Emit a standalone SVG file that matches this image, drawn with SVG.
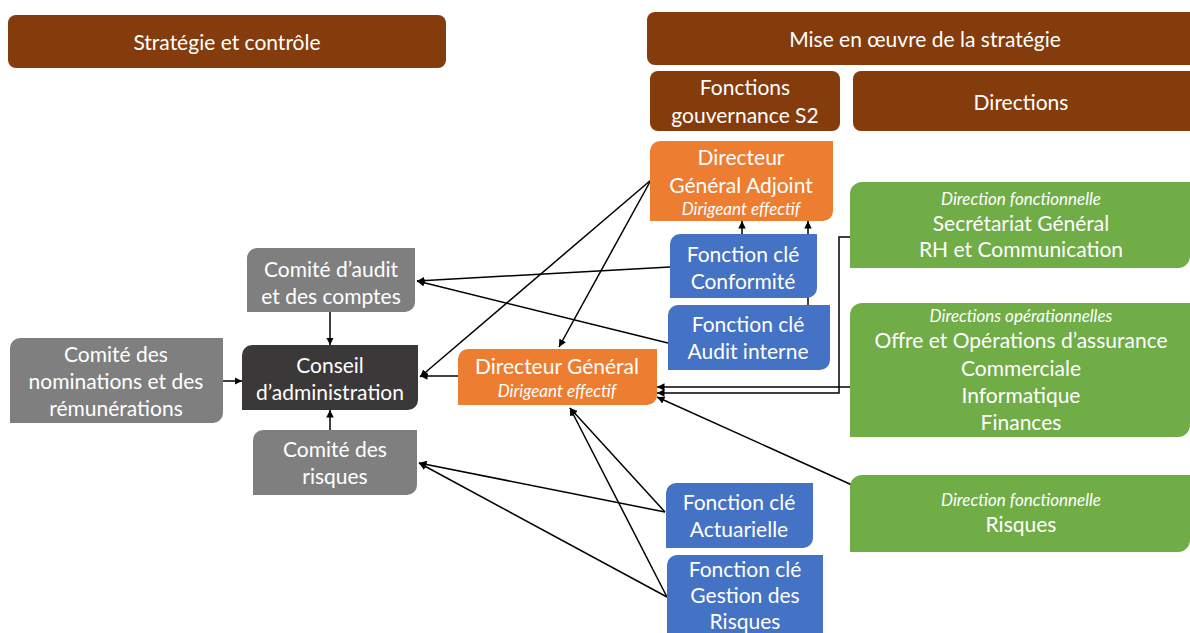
<svg xmlns="http://www.w3.org/2000/svg" width="1190" height="633" viewBox="0 0 1190 633">
<defs>
<marker id="arr" viewBox="0 0 10 10" refX="10" refY="5" markerWidth="5" markerHeight="5" orient="auto" markerUnits="strokeWidth">
<path d="M0,0 L10,5 L0,10 z" fill="#000"/>
</marker>
<style>
text{font-family:Lato,"Open Sans","Liberation Sans",sans-serif;fill:#fff;text-anchor:middle;font-size:21px}
.it{font-style:italic;font-size:17px}
.brown{fill:#843C0C}
.gray{fill:#7F7F7F}
.dark{fill:#3A3838}
.orange{fill:#ED7D31}
.blue{fill:#4472C4}
.green{fill:#70AD47}
.conn line,.conn path{stroke:#000;stroke-width:1.5;fill:none;marker-end:url(#arr)}
</style>
</defs>
<rect width="1190" height="633" fill="#fff"/>

<g id="h-strategie"><rect class="brown" x="8" y="15" width="438" height="53" rx="8"/><text x="227" y="50">Stratégie et contrôle</text></g>
<g id="h-mise"><rect class="brown" x="647" y="12" width="560" height="53" rx="8"/><text x="925" y="47">Mise en œuvre de la stratégie</text></g>
<g id="h-fonctions"><rect class="brown" x="650" y="71" width="190" height="60" rx="8"/><text x="745" y="95">Fonctions</text><text x="745" y="123">gouvernance S2</text></g>
<g id="h-directions"><rect class="brown" x="853" y="71" width="350" height="60" rx="8"/><text x="1021" y="110">Directions</text></g>

<g class="conn" id="connectors">
<line x1="330" y1="312" x2="330" y2="345"/>
<line x1="330" y1="430" x2="330" y2="410"/>
<line x1="223" y1="381" x2="242" y2="381"/>
<line x1="670" y1="267" x2="417" y2="281"/>
<line x1="668" y1="343" x2="417" y2="281"/>
<line x1="651" y1="180" x2="420" y2="377"/>
<line x1="651" y1="180" x2="559" y2="347"/>
<line x1="458" y1="376" x2="420" y2="376"/>
<line x1="742" y1="234" x2="742" y2="221"/>
<line x1="808" y1="305" x2="808" y2="221"/>
<path d="M852,237 H839 V393 H657"/>
<line x1="852" y1="387" x2="657" y2="387"/>
<line x1="852" y1="485" x2="657" y2="397"/>
<line x1="665" y1="512" x2="419" y2="463"/>
<line x1="667" y1="597" x2="419" y2="463"/>
<line x1="665" y1="512" x2="570" y2="408"/>
<line x1="667" y1="597" x2="570" y2="408"/>
</g>

<g id="comite-audit"><path class="gray" d="M257,248 H415 V302 A10,10 0 0 1 405,312 H247 V258 A10,10 0 0 1 257,248 Z"/><text x="331" y="277">Comité d’audit</text><text x="331" y="304">et des comptes</text></g>
<g id="comite-nominations"><path class="gray" d="M20,338 H223 V413 A10,10 0 0 1 213,423 H10 V348 A10,10 0 0 1 20,338 Z"/><text x="116" y="362">Comité des</text><text x="116" y="389">nominations et des</text><text x="116" y="416">rémunérations</text></g>
<g id="conseil"><path class="dark" d="M252,345 H418 V400 A10,10 0 0 1 408,410 H242 V355 A10,10 0 0 1 252,345 Z"/><text x="330" y="373">Conseil</text><text x="330" y="400">d’administration</text></g>
<g id="comite-risques"><path class="gray" d="M263,430 H417 V485 A10,10 0 0 1 407,495 H253 V440 A10,10 0 0 1 263,430 Z"/><text x="335" y="457">Comité des</text><text x="335" y="484">risques</text></g>

<g id="dg"><path class="orange" d="M468,349 H657 V395 A10,10 0 0 1 647,405 H458 V359 A10,10 0 0 1 468,349 Z"/><text x="557" y="374">Directeur Général</text><text class="it" x="557" y="397">Dirigeant effectif</text></g>
<g id="dga"><path class="orange" d="M660,141 H833 V211 A10,10 0 0 1 823,221 H650 V151 A10,10 0 0 1 660,141 Z"/><text x="741" y="165">Directeur</text><text x="741" y="193">Général Adjoint</text><text class="it" x="741" y="215">Dirigeant effectif</text></g>

<g id="fc-conformite"><path class="blue" d="M680,234 H817 V288 A10,10 0 0 1 807,298 H670 V244 A10,10 0 0 1 680,234 Z"/><text x="743" y="262">Fonction clé</text><text x="743" y="289">Conformité</text></g>
<g id="fc-audit"><path class="blue" d="M678,305 H830 V360 A10,10 0 0 1 820,370 H668 V315 A10,10 0 0 1 678,305 Z"/><text x="748" y="332">Fonction clé</text><text x="748" y="359">Audit interne</text></g>
<g id="fc-actuarielle"><path class="blue" d="M676,483 H813 V538 A10,10 0 0 1 803,548 H666 V493 A10,10 0 0 1 676,483 Z"/><text x="739" y="510">Fonction clé</text><text x="739" y="537">Actuarielle</text></g>
<g id="fc-gestion"><path class="blue" d="M677,555 H823 V640 A10,10 0 0 1 813,650 H667 V565 A10,10 0 0 1 677,555 Z"/><text x="745" y="577">Fonction clé</text><text x="745" y="603">Gestion des</text><text x="745" y="629">Risques</text></g>

<g id="dir-sg"><path class="green" d="M862,182 H1190 V256 A12,12 0 0 1 1178,268 H850 V194 A12,12 0 0 1 862,182 Z"/><text class="it" x="1021" y="205">Direction fonctionnelle</text><text x="1021" y="231">Secrétariat Général</text><text x="1021" y="257">RH et Communication</text></g>
<g id="dir-op"><path class="green" d="M862,303 H1190 V425 A12,12 0 0 1 1178,437 H850 V315 A12,12 0 0 1 862,303 Z"/><text class="it" x="1021" y="322">Directions opérationnelles</text><text x="1021" y="348">Offre et Opérations d’assurance</text><text x="1021" y="376">Commerciale</text><text x="1021" y="403">Informatique</text><text x="1021" y="430">Finances</text></g>
<g id="dir-risques"><path class="green" d="M862,475 H1190 V540 A12,12 0 0 1 1178,552 H850 V487 A12,12 0 0 1 862,475 Z"/><text class="it" x="1021" y="506">Direction fonctionnelle</text><text x="1021" y="532">Risques</text></g>
</svg>
